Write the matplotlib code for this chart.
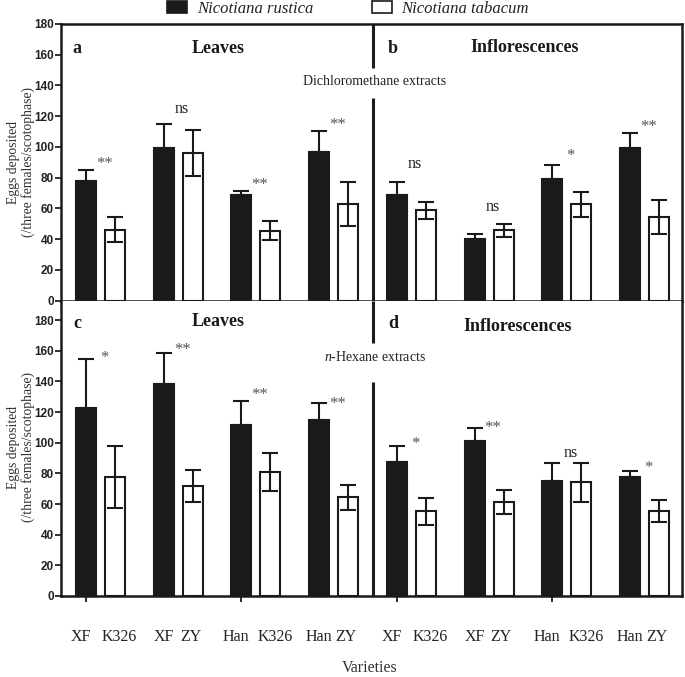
import matplotlib
matplotlib.use("Agg")
import matplotlib.pyplot as plt
from matplotlib.patches import Patch
import numpy as np

plt.rcParams["mathtext.fontset"] = "custom"
plt.rcParams["mathtext.rm"] = "Liberation Serif"
plt.rcParams["mathtext.it"] = "Liberation Serif:italic"

# ---------------- data ----------------
rustica_labels = ["XF", "XF", "Han", "Han", "XF", "XF", "Han", "Han"]
tabacum_labels = ["K326", "ZY", "K326", "ZY", "K326", "ZY", "K326", "ZY"]

dcm_rustica = [78.0, 99.4, 68.6, 96.4, 68.8, 40.1, 79.4, 99.4]
dcm_rustica_err = [6.7, 15.2, 3.0, 14.1, 8.5, 3.5, 8.9, 9.5]
dcm_tabacum = [46.2, 96.1, 45.4, 62.9, 58.6, 45.6, 62.5, 54.3]
dcm_tabacum_err = [8.2, 15.2, 6.1, 14.4, 5.6, 4.3, 8.1, 11.0]
dcm_sig = ["**", "ns", "**", "**", "ns", "ns", "*", "**"]
dcm_sig_y = [92.4, 125.0, 79.0, 118.0, 89.2, 61.0, 97.9, 116.8]

hex_rustica = [122.8, 138.5, 111.5, 114.6, 87.4, 101.1, 75.0, 77.4]
hex_rustica_err = [32.0, 19.8, 15.9, 11.1, 10.2, 8.7, 11.5, 3.9]
hex_tabacum = [77.6, 71.7, 80.9, 64.3, 55.2, 61.3, 74.1, 55.7]
hex_tabacum_err = [20.5, 10.4, 12.7, 8.0, 8.9, 7.7, 12.6, 7.2]
hex_sig = ["*", "**", "**", "**", "*", "**", "ns", "*"]
hex_sig_y = [159.0, 164.0, 135.0, 129.0, 102.6, 113.5, 93.5, 87.0]

yticks = [0, 20, 40, 60, 80, 100, 120, 140, 160, 180]

# ---------------- style ----------------
SERIF = ["Liberation Serif", "DejaVu Serif"]
SANS = ["Liberation Sans", "DejaVu Sans"]
W, H = 685, 677
fig = plt.figure(figsize=(W / 100, H / 100), dpi=100)

def fx(px):
    return px / W

def fy(py):
    return 1 - py / H

ax_left, ax_right = 61, 682
axA = fig.add_axes([fx(ax_left), fy(300.5), fx(ax_right - ax_left), (300.5 - 24) / H])
axB = fig.add_axes([fx(ax_left), fy(596), fx(ax_right - ax_left), (596 - 300.5) / H])

ng = len(dcm_rustica)
pos_r = np.arange(ng, dtype=float)
offset = 0.373
pos_t = pos_r + offset
bw = 0.257
xlim = (-0.322, 7.67)
xdiv = 3.694

def draw(ax, rus, rus_err, tab, tab_err, sig, sig_y, ylim_top):
    ax.bar(pos_r, rus, width=bw, color="#1a1a1a", edgecolor="#1a1a1a", linewidth=1.5, zorder=2)
    ax.bar(pos_t, tab, width=bw, color="white", edgecolor="#1a1a1a", linewidth=1.5, zorder=2)
    ax.errorbar(pos_r, rus, yerr=[np.zeros(ng), rus_err], fmt="none", ecolor="#1a1a1a",
                elinewidth=1.5, capsize=5.5, capthick=1.5, zorder=3)
    ax.errorbar(pos_t, tab, yerr=tab_err, fmt="none", ecolor="#1a1a1a",
                elinewidth=1.5, capsize=5.5, capthick=1.5, zorder=3)
    for i in range(ng):
        xm = (pos_r[i] + pos_t[i]) / 2 + 0.05
        if sig[i] == "ns":
            ax.annotate("ns", (xm, sig_y[i]), xytext=(0, -3), textcoords="offset points",
                        ha="center", va="baseline", fontsize=11.5, family=SERIF, color="#222222")
        else:
            ax.annotate(sig[i], (xm, sig_y[i]), xytext=(0, -7), textcoords="offset points",
                        ha="center", va="baseline", fontsize=12, family=SERIF, color="#555555")
    ax.set_xlim(*xlim)
    ax.set_ylim(0, ylim_top)
    ax.set_yticks(yticks)
    ax.set_yticklabels([str(v) for v in yticks], fontsize=8.5, fontweight="bold",
                       family=SANS, color="#222222")
    ax.tick_params(axis="y", direction="out", length=4, width=1.3, pad=1, colors="#222222")
    for s in ax.spines.values():
        s.set_linewidth(1.8)
        s.set_color("#1a1a1a")

# Top panel
draw(axA, dcm_rustica, dcm_rustica_err, dcm_tabacum, dcm_tabacum_err, dcm_sig, dcm_sig_y, 180)
top_tick_pos = [pos_r[0], pos_t[1], pos_r[3], pos_t[4], pos_r[6], pos_t[7]]
axA.set_xticks(top_tick_pos)
axA.set_xticklabels([])
axA.tick_params(axis="x", direction="out", length=3.5, width=1.3, colors="#1a1a1a")

# Bottom panel
ylimB = (596 - 300.5) / 1.533
draw(axB, hex_rustica, hex_rustica_err, hex_tabacum, hex_tabacum_err, hex_sig, hex_sig_y, ylimB)
axB.spines["top"].set_visible(False)
is_k326 = np.array([lab == "K326" for lab in tabacum_labels])
r_shift = np.where(is_k326, -0.07, 0.0)
t_shift = np.where(is_k326, 0.06, -0.03)
lab_pos = np.ravel(np.column_stack([pos_r + r_shift, pos_t + t_shift]))
alllab = [l for pair in zip(rustica_labels, tabacum_labels) for l in pair]
axB.set_xticks(lab_pos)
axB.set_xticklabels(alllab, fontsize=11.5, family=SERIF, color="#222222")
axB.tick_params(axis="x", which="major", length=0, pad=24)
axB.set_xticks(pos_r, minor=True)
axB.tick_params(axis="x", which="minor", direction="out", length=4, width=1.3, colors="#1a1a1a")

# Divider lines
axA.plot([xdiv, xdiv], [180, 151.4], color="#1a1a1a", lw=2.2, solid_capstyle="butt", zorder=4)
axA.plot([xdiv, xdiv], [131.8, 0], color="#1a1a1a", lw=2.2, solid_capstyle="butt", zorder=4)
axB.plot([xdiv, xdiv], [ylimB, 165.0], color="#1a1a1a", lw=2.2, solid_capstyle="butt", zorder=4)
axB.plot([xdiv, xdiv], [139.6, 0], color="#1a1a1a", lw=2.2, solid_capstyle="butt", zorder=4)

# Panel titles
tkw = dict(family=SERIF, fontweight="bold", fontsize=13, color="#1a1a1a", va="baseline", ha="center")
axA.text(-0.116, 161.1, "a", **tkw)
axA.text(1.70, 161.3, "Leaves", **tkw)
axA.text(3.95, 161.1, "b", **tkw)
axA.text(5.64, 161.8, "Inflorescences", **tkw)
axA.text(3.71, 140.3, "Dichloromethane extracts", family=SERIF, fontsize=10,
         color="#222222", ha="center", va="baseline")
axB.text(-0.116, 174.8, "c", **tkw)
axB.text(1.70, 176.0, "Leaves", **tkw)
axB.text(3.95, 174.8, "d", **tkw)
axB.text(5.56, 172.9, "Inflorescences", **tkw)
axB.text(3.72, 153.3, r"$\mathit{n}$-Hexane extracts", family=SERIF, fontsize=10,
         color="#222222", ha="center", va="baseline")

# Y labels
ylab = "Eggs deposited\n(/three females/scotophase)"
fig.text(fx(21), fy(162), ylab, rotation=90, ha="center", va="center", multialignment="center",
         family=SERIF, fontsize=9.8, color="#333333", linespacing=1.1)
fig.text(fx(21), fy(447), ylab, rotation=90, ha="center", va="center", multialignment="center",
         family=SERIF, fontsize=9.8, color="#333333", linespacing=1.1)

# X label
fig.text(fx(370), fy(668), "Varieties", ha="center", va="center", family=SERIF,
         fontsize=11.5, color="#333333")

# Legend
handles = [Patch(facecolor="#1a1a1a", edgecolor="#1a1a1a", linewidth=1.2),
           Patch(facecolor="white", edgecolor="#1a1a1a", linewidth=1.2)]
fig.legend(handles, ["Nicotiana rustica", "Nicotiana tabacum"], loc="upper center",
           bbox_to_anchor=(fx(348), 0.999), ncol=2, frameon=False,
           prop={"family": SERIF, "style": "italic", "size": 12},
           handlelength=1.2, handleheight=0.7, handletextpad=0.6, columnspacing=3.5,
           borderpad=0.0, borderaxespad=0.0, labelcolor="#222222")

fig.savefig("out.png", dpi=100)
